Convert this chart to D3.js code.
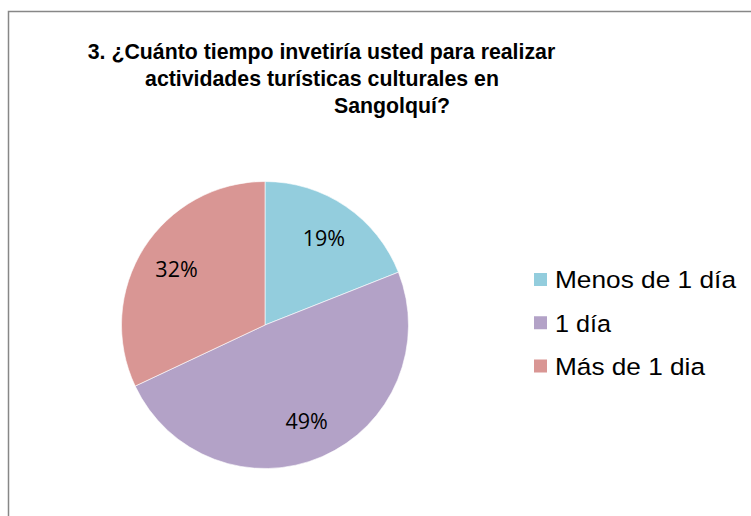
<!DOCTYPE html>
<html>
<head>
<meta charset="utf-8">
<script src="https://cdn.jsdelivr.net/npm/d3@7"></script>
<style>
  body { margin: 0; background: #fff; }
  svg { display: block; }
</style>
</head>
<body>
<svg id="chart" width="751" height="516"></svg>
<script>
const categories = ["Menos de 1 día", "1 día", "Más de 1 dia"];
const values = [19, 49, 32];
const colors = ["#93CDDD", "#B3A2C7", "#D99694"];
const titleLines = [
  "3. ¿Cuánto tiempo invetiría usted para realizar",
  "actividades turísticas culturales en",
  "Sangolquí?"
];

const svg = d3.select("#chart");

// frame (right and bottom edges fall outside the window)
svg.append("rect")
    .attr("x", 8.5)
    .attr("y", 11.5)
    .attr("width", 800)
    .attr("height", 600)
    .attr("fill", "#fff")
    .attr("stroke", "#878787")
    .attr("stroke-width", 1.5);

// title, last line sits off-centre like in the original
const titleX = [321.5, 322, 392];
svg.append("g")
    .selectAll("text")
    .data(titleLines)
    .join("text")
    .attr("x", (d, i) => titleX[i])
    .attr("y", (d, i) => 59 + i * 27)
    .attr("text-anchor", "middle")
    .style("font-family", "Liberation Sans, Arial, sans-serif")
    .style("font-weight", "bold")
    .style("font-size", "21.3px")
    .style("fill", "#000")
    .text((d) => d);

// pie
const cx = 265, cy = 325, radius = 143.5;
const pie = d3.pie().sort(null).value((d) => d);
const arcs = pie(values);
const arc = d3.arc().innerRadius(0).outerRadius(radius);
const labelArc = d3.arc().innerRadius(radius * 0.73).outerRadius(radius * 0.73);

const g = svg.append("g").attr("transform", `translate(${cx},${cy})`);

g.selectAll("path")
    .data(arcs)
    .join("path")
    .attr("d", arc)
    .attr("fill", (d, i) => colors[i])
    .attr("stroke", "#fff")
    .attr("stroke-width", 0.6);

g.selectAll("text")
    .data(arcs)
    .join("text")
    .attr("transform", (d) => {
        const [x, y] = labelArc.centroid(d);
        return `translate(${x},${y})`;
    })
    .attr("text-anchor", "middle")
    .attr("dy", "0.36em")
    .style("font-family", "Open Sans, sans-serif")
    .style("font-size", "21.5px")
    .style("fill", "#000")
    .text((d) => d3.format(".0%")(d.value / d3.sum(values)));

// legend
const legendY = d3.scalePoint()
    .domain(categories)
    .range([279.5, 366]);
const legendW = [181, 56, 150];

const legend = svg.append("g")
    .selectAll("g")
    .data(categories)
    .join("g")
    .attr("transform", (d) => `translate(534,${legendY(d)})`);

legend.append("rect")
    .attr("x", 0)
    .attr("y", -6.5)
    .attr("width", 13)
    .attr("height", 13)
    .attr("fill", (d, i) => colors[i]);

legend.append("text")
    .attr("x", 21)
    .attr("dy", "0.36em")
    .attr("textLength", (d, i) => legendW[i])
    .attr("lengthAdjust", "spacingAndGlyphs")
    .style("font-family", "Liberation Sans, Arial, sans-serif")
    .style("font-size", "24.5px")
    .style("fill", "#000")
    .text((d) => d);
</script>
</body>
</html>
